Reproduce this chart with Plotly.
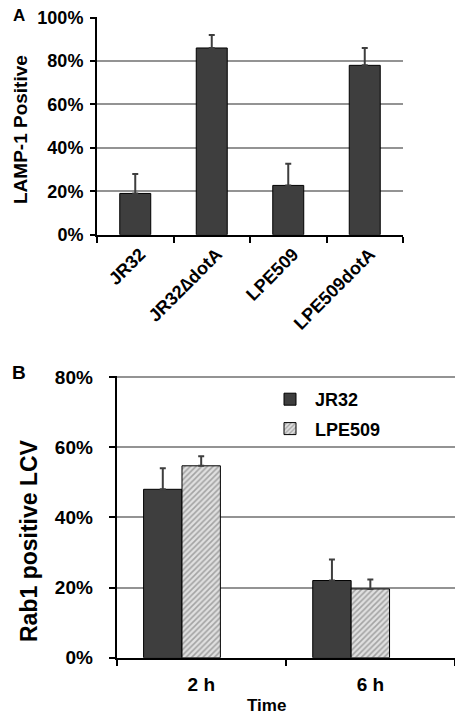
import plotly.graph_objects as go

# ---- Panel A data ----
strains = ["JR32", "JR32\u2206dotA", "LPE509", "LPE509dotA"]
lamp1_pct = [19, 86, 22.7, 78]
lamp1_err = [9, 6, 10, 8]

# ---- Panel B data ----
times = ["2 h", "6 h"]
rab1_jr32 = [48, 22]
rab1_jr32_err = [6, 6]
rab1_lpe509 = [54.7, 19.6]
rab1_lpe509_err = [2.7, 2.7]

FONT = "Liberation Sans, Arial, sans-serif"
DARK = "#3e3e3e"
W, H = 455, 714


def fx(px):
    return px / W


def fy(py):
    return 1 - py / H


fig = go.Figure()

fig.add_trace(go.Bar(
    x=strains, y=lamp1_pct, xaxis="x", yaxis="y", width=0.405,
    marker=dict(color=DARK, line=dict(color="black", width=1)),
    error_y=dict(type="data", symmetric=False, array=lamp1_err,
                 arrayminus=[0] * len(lamp1_err), color=DARK, thickness=2, width=3),
    showlegend=False,
))

fig.add_trace(go.Bar(
    x=times, y=rab1_jr32, xaxis="x2", yaxis="y2", name="JR32",
    width=0.227, offset=-0.341, legendgroup="a",
    marker=dict(color=DARK, line=dict(color="black", width=1)),
    error_y=dict(type="data", symmetric=False, array=rab1_jr32_err,
                 arrayminus=[0, 0], color=DARK, thickness=2, width=3),
))
fig.add_trace(go.Bar(
    x=times, y=rab1_lpe509, xaxis="x2", yaxis="y2", name="LPE509",
    width=0.227, offset=-0.114, legendgroup="b",
    marker=dict(color="#d4d4d4", line=dict(color="black", width=1),
                pattern=dict(shape="/", fgcolor="#666666", bgcolor="#e0e0e0",
                             size=4, solidity=0.4)),
    error_y=dict(type="data", symmetric=False, array=rab1_lpe509_err,
                 arrayminus=[0, 0], color=DARK, thickness=2, width=3),
))

tickfont_a = dict(family=FONT, size=18, color="black", weight="bold")
tickfont_b = dict(family=FONT, size=19, color="black", weight="bold")

common_axis = dict(automargin=False, showline=True, linecolor="black", linewidth=2,
                   ticks="outside", tickcolor="black", tickwidth=1.5,
                   ticklabeloverflow="allow")

fig.update_layout(
    width=W, height=H,
    margin=dict(l=0, r=0, t=0, b=0, autoexpand=False),
    paper_bgcolor="white", plot_bgcolor="white",
    barmode="group",
    xaxis=dict(domain=[fx(97), fx(403)], anchor="y", type="category",
               tickson="boundaries", ticklen=6, ticklabelshift=5,
               tickangle=-45, tickfont=tickfont_a, showgrid=False, **common_axis),
    yaxis=dict(domain=[fy(234.7), fy(16.7)], anchor="x", range=[0, 100.4], dtick=20,
               ticksuffix="%", ticklen=5,
               showgrid=True, gridcolor="#939393", gridwidth=1.5, zeroline=False,
               tickfont=tickfont_a, ticklabelstandoff=3, **common_axis),
    xaxis2=dict(domain=[fx(116.7), 1.0], anchor="y2", type="category",
                range=[-0.5, 1.5],
                tickson="boundaries", ticklen=6,
                tickfont=tickfont_b, showgrid=False, ticklabelstandoff=8, **common_axis),
    yaxis2=dict(domain=[fy(657.7), fy(376)], anchor="x2", range=[0, 80.3], dtick=20,
                ticksuffix="%", ticklen=6,
                showgrid=True, gridcolor="#939393", gridwidth=1.5, zeroline=False,
                tickfont=tickfont_b, ticklabelstandoff=12, **common_axis),
    legend=dict(x=fx(265), y=fy(381), xanchor="left", yanchor="top",
                traceorder="grouped", tracegroupgap=3, itemwidth=40,
                font=dict(family=FONT, size=18, color="black", weight="bold"),
                bgcolor="rgba(0,0,0,0)"),
    showlegend=True,
)

annots = [
    ("A", 19, 15, 0, 17),
    ("LAMP-1 Positive", 20, 130, -90, 19),
    ("B", 19, 372, 0, 19),
    ("Rab1 positive LCV", 29, 541, -90, 23),
    ("Time", 266, 705, 0, 17),
]
for text, px, py, ang, size in annots:
    fig.add_annotation(
        text=text, x=fx(px), y=fy(py), xref="paper", yref="paper",
        xanchor="center", yanchor="middle", textangle=ang, showarrow=False,
        font=dict(family=FONT, size=size, color="black", weight="bold"),
    )

fig.write_html("out.html", config={"displayModeBar": False},
               post_script="document.body.style.margin='0';document.body.style.overflow='hidden';")
